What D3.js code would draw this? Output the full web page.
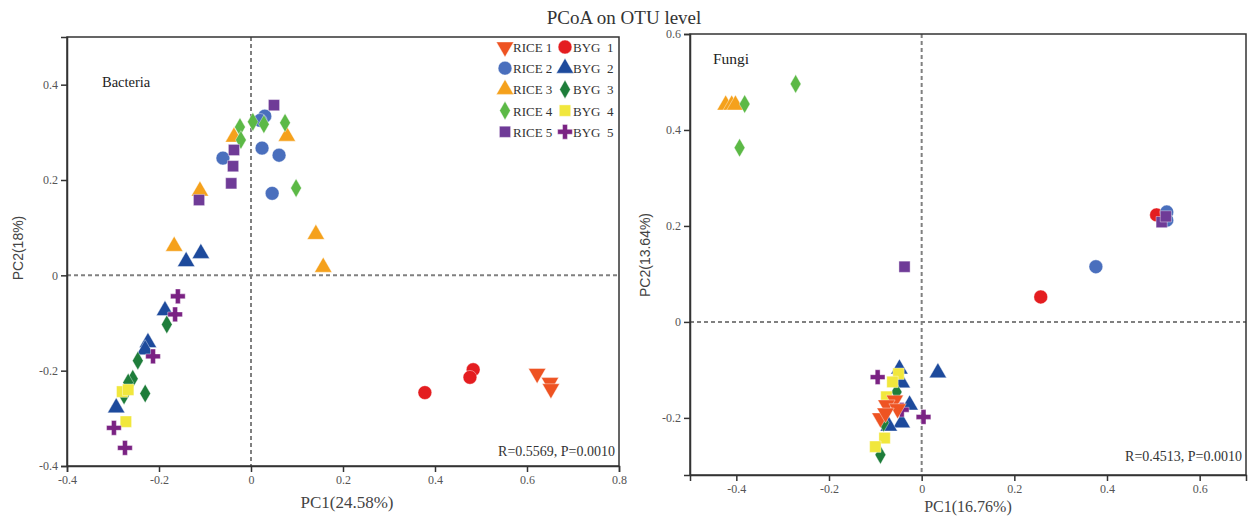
<!DOCTYPE html>
<html>
<head>
<meta charset="utf-8">
<script src="https://cdn.jsdelivr.net/npm/d3@7"></script>
<style>
  body { margin: 0; background: #fff; }
  svg { display: block; }
</style>
</head>
<body>
<svg id="chart" width="1248" height="516"></svg>
<script>
// group names, legend rows
var groups = ["BYG 1", "BYG 2", "BYG 3", "BYG 4", "BYG 5", "RICE 1", "RICE 2", "RICE 3", "RICE 4", "RICE 5"];
var legendRows = [["RICE 1", "BYG 1"], ["RICE 2", "BYG 2"], ["RICE 3", "BYG 3"], ["RICE 4", "BYG 4"], ["RICE 5", "BYG 5"]];
var legendLabels = {"RICE 1": "RICE 1", "RICE 2": "RICE 2", "RICE 3": "RICE 3", "RICE 4": "RICE 4", "RICE 5": "RICE 5",
  "BYG 1": "BYG  1", "BYG 2": "BYG  2", "BYG 3": "BYG  3", "BYG 4": "BYG  4", "BYG 5": "BYG  5"};

// bacteria: [group, PC1, PC2]
var bacteriaPoints = [
  ["RICE 1", 0.622, -0.206], ["RICE 1", 0.650, -0.225], ["RICE 1", 0.652, -0.238],
  ["BYG 1", 0.378, -0.246], ["BYG 1", 0.483, -0.198], ["BYG 1", 0.476, -0.214],
  ["RICE 2", 0.030, 0.334], ["RICE 2", 0.020, 0.325], ["RICE 2", 0.024, 0.267], ["RICE 2", 0.061, 0.252], ["RICE 2", 0.046, 0.172], ["RICE 2", -0.061, 0.246],
  ["BYG 2", -0.141, 0.029], ["BYG 2", -0.109, 0.046], ["BYG 2", -0.187, -0.074], ["BYG 2", -0.224, -0.141], ["BYG 2", -0.230, -0.156], ["BYG 2", -0.293, -0.278],
  ["RICE 3", -0.037, 0.290], ["RICE 3", 0.078, 0.292], ["RICE 3", -0.111, 0.177], ["RICE 3", -0.167, 0.061], ["RICE 3", 0.141, 0.086], ["RICE 3", 0.157, 0.017],
  ["BYG 3", -0.183, -0.103], ["BYG 3", -0.246, -0.179], ["BYG 3", -0.257, -0.217], ["BYG 3", -0.267, -0.225], ["BYG 3", -0.230, -0.248], ["BYG 3", -0.276, -0.252],
  ["RICE 4", -0.024, 0.311], ["RICE 4", -0.022, 0.284], ["RICE 4", 0.004, 0.322], ["RICE 4", 0.028, 0.317], ["RICE 4", 0.074, 0.320], ["RICE 4", 0.098, 0.183],
  ["BYG 4", -0.280, -0.244], ["BYG 4", -0.267, -0.240], ["BYG 4", -0.272, -0.307],
  ["RICE 5", 0.050, 0.357], ["RICE 5", -0.037, 0.263], ["RICE 5", -0.039, 0.229], ["RICE 5", -0.043, 0.193], ["RICE 5", -0.113, 0.158],
  ["BYG 5", -0.159, -0.044], ["BYG 5", -0.165, -0.082], ["BYG 5", -0.213, -0.170], ["BYG 5", -0.298, -0.320], ["BYG 5", -0.274, -0.362]
];

// fungi: [group, PC1, PC2]
var fungiPoints = [
  ["RICE 1", -0.058, -0.163], ["RICE 1", -0.076, -0.173], ["RICE 1", -0.089, -0.200], ["RICE 1", -0.052, -0.181], ["RICE 1", -0.078, -0.190],
  ["BYG 1", 0.257, 0.052], ["BYG 1", 0.507, 0.223],
  ["RICE 2", 0.376, 0.115], ["RICE 2", 0.529, 0.229], ["RICE 2", 0.529, 0.212],
  ["BYG 2", 0.035, -0.106], ["BYG 2", -0.048, -0.098], ["BYG 2", -0.043, -0.127], ["BYG 2", -0.026, -0.173], ["BYG 2", -0.043, -0.210], ["BYG 2", -0.071, -0.217],
  ["RICE 3", -0.423, 0.452], ["RICE 3", -0.410, 0.452], ["RICE 3", -0.402, 0.452],
  ["BYG 3", -0.054, -0.146], ["BYG 3", -0.089, -0.277], ["BYG 3", -0.082, -0.210],
  ["RICE 4", -0.382, 0.454], ["RICE 4", -0.272, 0.496], ["RICE 4", -0.393, 0.363],
  ["BYG 4", -0.050, -0.108], ["BYG 4", -0.063, -0.125], ["BYG 4", -0.076, -0.156], ["BYG 4", -0.080, -0.242], ["BYG 4", -0.100, -0.260],
  ["RICE 5", -0.037, 0.115], ["RICE 5", 0.518, 0.208], ["RICE 5", 0.527, 0.220],
  ["BYG 5", -0.095, -0.115], ["BYG 5", 0.004, -0.198], ["BYG 5", -0.043, -0.183]
];

var bacteriaXTicks = [-0.4, -0.2, 0, 0.2, 0.4, 0.6, 0.8];
var bacteriaYTicks = [-0.4, -0.2, 0, 0.2, 0.4];
var fungiXTicks = [-0.4, -0.2, 0, 0.2, 0.4, 0.6];
var fungiYTicks = [-0.2, 0, 0.2, 0.4, 0.6];

// marker look per group
var markerStyle = {
  "RICE 1": {shape: d3.symbolTriangle, size: 130, rotate: 180, color: "#ee5322"},
  "BYG 1":  {shape: d3.symbolCircle,   size: 150, rotate: 0,   color: "#e41d20"},
  "RICE 2": {shape: d3.symbolCircle,   size: 150, rotate: 0,   color: "#4a6fbd"},
  "BYG 2":  {shape: d3.symbolTriangle, size: 130, rotate: 0,   color: "#1d4a9c"},
  "RICE 3": {shape: d3.symbolTriangle, size: 130, rotate: 0,   color: "#f5a11c"},
  "BYG 3":  {shape: d3.symbolDiamond,  size: 100, rotate: 0,   color: "#1e7d3a"},
  "RICE 4": {shape: d3.symbolDiamond,  size: 100, rotate: 0,   color: "#5cb946"},
  "BYG 4":  {shape: d3.symbolSquare,   size: 130, rotate: 0,   color: "#f1e73c"},
  "RICE 5": {shape: d3.symbolSquare,   size: 125, rotate: 0,   color: "#6f3b97"},
  "BYG 5":  {shape: d3.symbolCross,    size: 120, rotate: 0,   color: "#7a2283"}
};

var svg = d3.select("#chart");
svg.append("rect").attr("width", 1248).attr("height", 516).attr("fill", "#fff");

var serif = "'Liberation Serif', 'Times New Roman', serif";
var sans = "'Liberation Sans', Arial, sans-serif";

function fmt(d) {
  if (d === 0) return "0";
  return (d < 0 ? "-" : "") + Math.abs(d).toFixed(1);
}

function marker(sel) {
  sel.attr("d", d => d3.symbol().type(markerStyle[d[0]].shape).size(markerStyle[d[0]].size)())
    .attr("fill", d => markerStyle[d[0]].color)
    .attr("stroke", "#fff")
    .attr("stroke-width", 0.4);
}

function drawPanel(cfg) {
  var x = d3.scaleLinear().domain(cfg.xDomain).range([cfg.left, cfg.right]);
  var y = d3.scaleLinear().domain(cfg.yDomain).range([cfg.bottom, cfg.top]);
  var g = svg.append("g");

  // zero lines
  g.append("line")
    .attr("x1", x(0)).attr("x2", x(0)).attr("y1", cfg.top).attr("y2", cfg.bottom)
    .attr("stroke", "#808080").attr("stroke-width", 2).attr("stroke-dasharray", "4,3");
  g.append("line")
    .attr("x1", cfg.left).attr("x2", cfg.right).attr("y1", y(0)).attr("y2", y(0))
    .attr("stroke", "#808080").attr("stroke-width", 2).attr("stroke-dasharray", "4,3");

  // points, BYG first then RICE
  var pts = cfg.points.slice().sort((a, b) => groups.indexOf(a[0]) - groups.indexOf(b[0]));
  g.selectAll(".pt").data(pts).enter()
    .append("path")
    .attr("class", "pt")
    .call(marker)
    .attr("transform", d => "translate(" + x(d[1]) + "," + y(d[2]) + ") rotate(" + markerStyle[d[0]].rotate + ")");

  // frame
  g.append("rect")
    .attr("x", cfg.left).attr("y", cfg.top)
    .attr("width", cfg.right - cfg.left).attr("height", cfg.bottom - cfg.top)
    .attr("fill", "none").attr("stroke", "#333").attr("stroke-width", 1.5);

  var xAxis = g.append("g")
    .attr("transform", "translate(0," + cfg.bottom + ")")
    .call(d3.axisBottom(x).tickValues(cfg.xTicks).tickFormat(fmt).tickSize(6).tickPadding(3));
  var yAxis = g.append("g")
    .attr("transform", "translate(" + cfg.left + ",0)")
    .call(d3.axisLeft(y).tickValues(cfg.yTicks).tickFormat(fmt).tickSize(6).tickPadding(3));

  [xAxis, yAxis].forEach(function(a) {
    a.select(".domain").attr("stroke", "#333").attr("stroke-width", 1.5);
    a.selectAll(".tick line").attr("stroke", "#333").attr("stroke-width", 1.5);
    a.selectAll(".tick text").attr("fill", "#555").style("font-family", serif).style("font-size", "12px");
  });

  // axis titles
  g.append("text")
    .attr("x", cfg.xTitleX).attr("y", cfg.xTitleY)
    .attr("text-anchor", "middle")
    .style("font-family", serif).style("font-size", cfg.xTitleSize).attr("fill", "#444")
    .text(cfg.xTitle);
  g.append("text")
    .attr("transform", "translate(" + cfg.yTitleX + "," + cfg.yTitleMid + ") rotate(-90)")
    .attr("text-anchor", "middle")
    .style("font-family", sans).style("font-size", "14px").attr("fill", "#444")
    .text(cfg.yTitle);

  // panel name
  g.append("text")
    .attr("x", cfg.nameX).attr("y", cfg.nameY)
    .style("font-family", serif).style("font-size", cfg.nameSize).attr("fill", "#222")
    .text(cfg.name);

  // stats
  g.append("text")
    .attr("x", cfg.right - 4).attr("y", cfg.statY)
    .attr("text-anchor", "end")
    .style("font-family", serif).style("font-size", "14px").attr("fill", "#333")
    .text(cfg.stat);

  return {x: x, y: y, g: g};
}

var left = drawPanel({
  points: bacteriaPoints, xDomain: [-0.4, 0.8], yDomain: [-0.4, 0.5],
  left: 67, right: 619, top: 37, bottom: 466,
  xTicks: bacteriaXTicks, yTicks: bacteriaYTicks,
  xTitle: "PC1(24.58%)", xTitleX: 347, xTitleY: 508, xTitleSize: "17px",
  yTitle: "PC2(18%)", yTitleX: 23, yTitleMid: 248,
  name: "Bacteria", nameX: 102, nameY: 87, nameSize: "14.5px",
  stat: "R=0.5569, P=0.0010", statY: 456
});

var right = drawPanel({
  points: fungiPoints, xDomain: [-0.5, 0.7], yDomain: [-0.319, 0.6],
  left: 690, right: 1246, top: 34, bottom: 475,
  xTicks: fungiXTicks, yTicks: fungiYTicks,
  xTitle: "PC1(16.76%)", xTitleX: 968, xTitleY: 512, xTitleSize: "16px",
  yTitle: "PC2(13.64%)", yTitleX: 650, yTitleMid: 255,
  name: "Fungi", nameX: 713, nameY: 64, nameSize: "15.5px",
  stat: "R=0.4513, P=0.0010", statY: 461
});

// legend inside bacteria panel
var legend = svg.append("g");
legendRows.forEach(function(row, i) {
  var ly = 47 + i * 21.2;
  row.forEach(function(name, j) {
    var sx = j === 0 ? 505 : 565;
    legend.append("path")
      .datum([name])
      .call(marker)
      .attr("transform", "translate(" + sx + "," + ly + ") rotate(" + markerStyle[name].rotate + ")");
    legend.append("text")
      .attr("x", sx + 8).attr("y", ly + 5)
      .style("font-family", serif).style("font-size", "13px").style("white-space", "pre")
      .attr("fill", "#333")
      .text(legendLabels[name]);
  });
});

// title
svg.append("text")
  .attr("x", 624).attr("y", 24)
  .attr("text-anchor", "middle")
  .style("font-family", serif).style("font-size", "19px").attr("fill", "#333")
  .text("PCoA on OTU level");
</script>
</body>
</html>
